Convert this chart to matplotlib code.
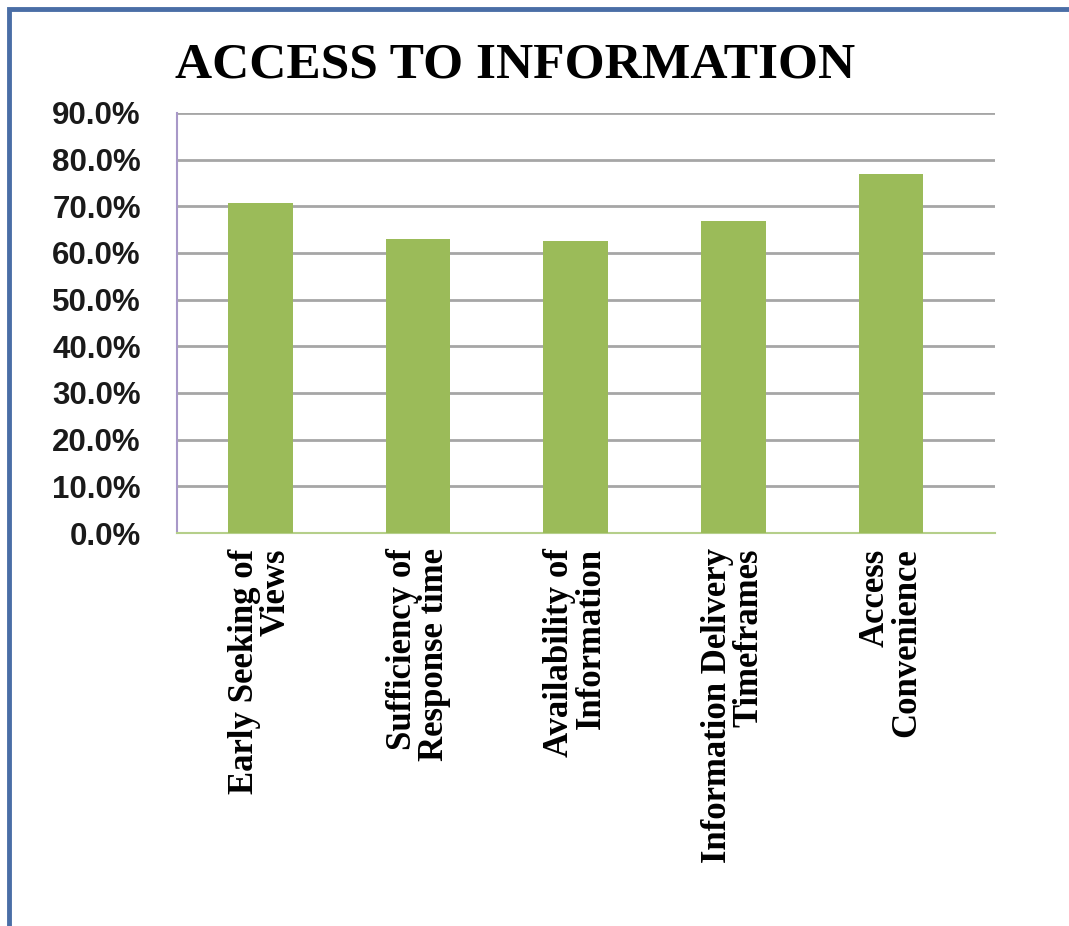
import matplotlib.pyplot as plt
from matplotlib.lines import Line2D
from matplotlib.ticker import FuncFormatter

categories = [
    "Early Seeking of\nViews",
    "Sufficiency of\nResponse time",
    "Availability of\nInformation",
    "Information Delivery\nTimeframes",
    "Access\nConvenience",
]
values = [0.708, 0.631, 0.626, 0.669, 0.770]
yticks = [0.0, 0.1, 0.2, 0.3, 0.4, 0.5, 0.6, 0.7, 0.8, 0.9]

bar_color = "#9BBB59"
grid_color = "#A6A6A6"
frame_color = "#4A6EA6"

fig = plt.figure(figsize=(10.69, 9.26), dpi=100)
ax = fig.add_axes([0.1656, 0.4244, 0.7652, 0.4536])

x = list(range(len(categories)))
ax.bar(x, values, width=0.41, color=bar_color, zorder=3)

ax.set_ylim(0, 0.9)
ax.set_xlim(-0.53, 4.66)
ax.set_yticks(yticks)
ax.yaxis.set_major_formatter(FuncFormatter(lambda v, _: f"{v * 100:.1f}%"))
ax.grid(axis="y", color=grid_color, linewidth=2, zorder=0)

for side in ["top", "right"]:
    ax.spines[side].set_visible(False)
ax.spines["left"].set_color("#A898C8")
ax.spines["left"].set_linewidth(1.5)
ax.spines["bottom"].set_color("#B5CF8A")
ax.spines["bottom"].set_linewidth(1.5)

ax.tick_params(axis="both", length=0)
ax.tick_params(axis="y", pad=26)
ax.tick_params(axis="x", pad=11)
for lbl in ax.get_yticklabels():
    lbl.set_fontfamily("Liberation Sans")
    lbl.set_fontweight("bold")
    lbl.set_fontsize(22.5)
    lbl.set_color("#1A1A1A")

ax.set_xticks(x)
ax.set_xticklabels(categories, rotation=90, fontfamily="Liberation Serif",
                   fontweight="bold", fontsize=25, linespacing=0.95,
                   multialignment="right", va="top", ha="center")

fig.text(0.4818, 0.9158, "ACCESS TO INFORMATION", ha="center", va="baseline",
         fontfamily="Liberation Serif", fontweight="bold", fontsize=37)

# blue frame along the left and top edges
fig.add_artist(Line2D([9 / 1069, 9 / 1069, 1.0], [0.0, 1 - 9 / 926, 1 - 9 / 926],
                      transform=fig.transFigure, color=frame_color, linewidth=3.5,
                      solid_joinstyle="miter"))

fig.savefig("out.png", dpi=100)
